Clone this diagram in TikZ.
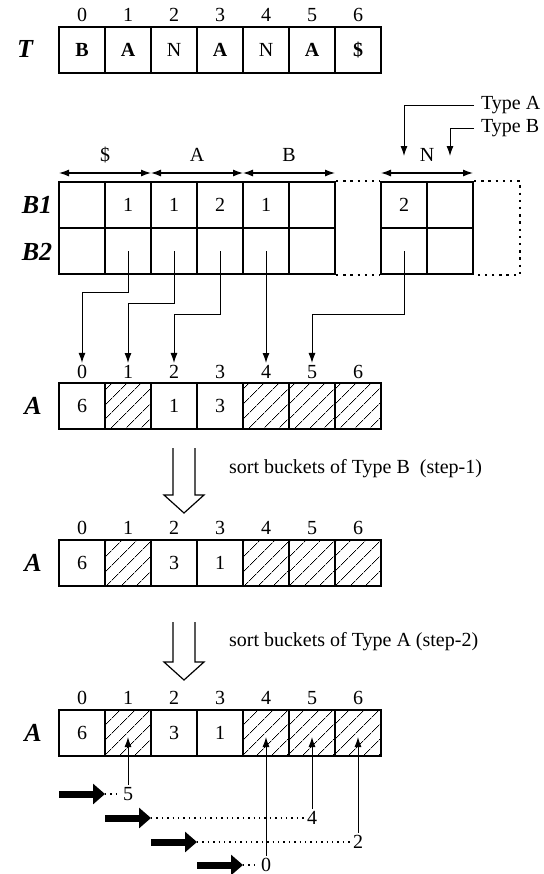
\documentclass[tikz,border=0pt]{standalone}
\usepackage{fontspec}
\setmainfont{Liberation Serif}
\usetikzlibrary{arrows.meta,patterns.meta}

\begin{document}
\begin{tikzpicture}[x=0.5pt,y=-0.5pt,
    cell/.style={draw, line width=1pt, minimum width=23pt, minimum height=23pt, inner sep=0pt, font=\fontsize{10}{11}\selectfont},
    hatch/.style={cell, pattern={Lines[angle=45,distance=5.4pt,line width=0.4pt]}},
    idx/.style={font=\fontsize{10}{11}\selectfont, inner sep=1pt},
    lbl/.style={font=\fontsize{13}{15}\selectfont\bfseries\itshape},
    note/.style={font=\fontsize{10}{11}\selectfont},
    conn/.style={line width=0.5pt, -{Latex[length=5pt,width=3.5pt]}},
    span/.style={line width=0.6pt, {Latex[length=5pt,width=3.5pt]}-{Latex[length=5pt,width=3.5pt]}},
    dots/.style={line width=1pt, dash pattern=on 1.2pt off 2.4pt},
    fine dots/.style={line width=0.7pt, dash pattern=on 0.7pt off 2pt},
    push/.style={line width=3.5pt, -{Triangle[length=6pt,width=10pt]}},
    hollow/.style={line width=0.6pt}]
    \useasboundingbox (0,0) rectangle (544,874);

    % Draw the text T
    \node[lbl] (tname) at (25,49) {T};
    \foreach \ch [count=\i from 0] in {\textbf{B},\textbf{A},N,\textbf{A},N,\textbf{A},\textbf{\$}} {
        \node[idx] (ti\i) at (82+46*\i,15) {\i};
        \node[cell] (t\i) at (82+46*\i,50) {\ch};
    }

    % Draw the buckets B1 and B2
    \node[lbl] (bname1) at (37,205) {B1};
    \node[lbl] (bname2) at (37,252) {B2};
    \foreach \v [count=\i from 0] in {{},1,1,2,1,{}} {
        \node[cell] (b1c\i) at (82+46*\i,205) {\v};
        \node[cell] (b2c\i) at (82+46*\i,251) {};
    }
    \foreach \v [count=\i from 0] in {2,{}} {
        \node[cell] (b1n\i) at (404+46*\i,205) {\v};
        \node[cell] (b2n\i) at (404+46*\i,251) {};
    }
    \draw[dots] (b1c5.north east) -- (b1n0.north west);
    \draw[dots] (b2c5.south east) -- (b2n0.south west);
    \draw[dots] (b1n1.north east) -- ++(46,0) |- (b2n1.south east);

    % Bucket ranges
    \foreach \a/\b/\l in {0/2/\$,2/4/A,4/6/B,7/9/N} {
        \draw[span] (59+46*\a,173) -- (59+46*\b,173);
        \node[note] (r\a) at (59+23*\a+23*\b,155) {\l};
    }

    % Type A and Type B
    \node[note, anchor=west] (ta) at (474,105) {Type A};
    \node[note, anchor=west] (tb) at (474,128) {Type B};
    \draw[conn] (ta.west) -| ([yshift=12.5pt]b1n0.north);
    \draw[conn] (tb.west) -| ([yshift=12.5pt]b1n1.north);

    % Array A after scattering
    \node[lbl] (aname1) at (33,406) {A};
    \foreach \v/\s [count=\i from 0] in {6/cell,{}/hatch,1/cell,3/cell,{}/hatch,{}/hatch,{}/hatch} {
        \node[idx] (ia\i) at (82+46*\i,372) {\i};
        \node[\s] (a1c\i) at (82+46*\i,406) {\v};
    }

    % Add arrows from B2 to A
    \draw[conn] (b2c1.center) -- ++(0,41) -| (ia0.north);
    \draw[conn] (b2c2.center) -- ++(0,52) -| (ia1.north);
    \draw[conn] (b2c3.center) -- ++(0,63) -| (ia2.north);
    \draw[conn] (b2c4.center) -- (ia4.north);
    \draw[conn] (b2n0.center) -- ++(0,63) -| (ia5.north);

    % Hollow arrows and notes
    \foreach \y/\l in {448/47,622/40} {
        \draw[hollow] (173,\y) -- ++(0,\l) -- ++(-9,0) -- ++(20,18) -- ++(20,-18) -- ++(-9,0) -- ++(0,-\l);
    }
    \node[note, anchor=west] (step1) at (222,469) {sort\ buckets of\ Type B\ \ (step-1)};
    \node[note, anchor=west] (step2) at (222,642) {sort\ buckets of\ Type A\ (step-2)};

    % Array A after step-1
    \node[lbl] (aname2) at (33,563) {A};
    \foreach \v/\s [count=\i from 0] in {6/cell,{}/hatch,3/cell,1/cell,{}/hatch,{}/hatch,{}/hatch} {
        \node[idx] (ib\i) at (82+46*\i,528) {\i};
        \node[\s] (a2c\i) at (82+46*\i,563) {\v};
    }

    % Array A after step-2
    \node[lbl] (aname3) at (33,733) {A};
    \foreach \v/\s [count=\i from 0] in {6/cell,{}/hatch,3/cell,1/cell,{}/hatch,{}/hatch,{}/hatch} {
        \node[idx] (ic\i) at (82+46*\i,698) {\i};
        \node[\s] (a3c\i) at (82+46*\i,733) {\v};
    }

    % Scan of the suffixes
    \foreach \i/\y/\v/\c in {0/794/5/1,1/818/4/5,2/842/2/6,3/865/0/4} {
        \coordinate (p\i) at (59+46*\i,\y);
        \node[idx] (o\i) at (82+46*\c,\y) {\v};
        \draw[push] (p\i) -- ++(46,0) coordinate (q\i);
        \draw[fine dots] (q\i) -- (o\i.west);
        \draw[conn] (o\i.north) -- ([yshift=-2pt]a3c\c.center);
    }
\end{tikzpicture}
\end{document}
